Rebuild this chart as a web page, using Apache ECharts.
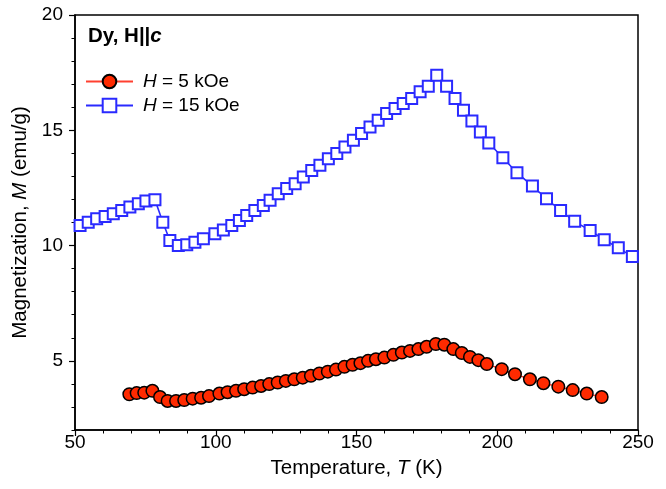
<!DOCTYPE html>
<html>
<head>
<meta charset="utf-8">
<script src="https://cdn.jsdelivr.net/npm/echarts@6/dist/echarts.min.js"></script>
<style>
  html, body { margin: 0; padding: 0; background: #fff; }
  #chart { width: 666px; height: 489px; }
</style>
</head>
<body>
<div id="chart"></div>
<script>
// Dy single crystal, field along c: magnetization vs temperature
const tempHigh = [51.8, 54.7, 57.7, 60.7, 63.6, 66.6, 69.5, 72.5, 75.2, 78.4,
  81.2, 83.7, 86.7, 89.7, 92.6, 95.6, 99.7, 102.7, 105.7, 108.4,
  111, 113.9, 116.9, 119.3, 122.2, 125.2, 128.2, 131.1, 134.1, 137,
  140, 143, 145.9, 148.9, 151.8, 154.8, 157.7, 160.7, 163.7, 166.6,
  169.6, 172.6, 175.5, 178.5, 182, 185, 188, 191, 194, 197,
  202, 207, 212.5, 217.5, 222.5, 227.5, 233, 238, 243, 248];
const magHigh = [10.87, 11.01, 11.16, 11.26, 11.38, 11.52, 11.67, 11.81, 11.93, 11.99,
  11.01, 10.22, 10.0, 10.04, 10.14, 10.29, 10.51, 10.68, 10.87, 11.09,
  11.3, 11.52, 11.74, 11.96, 12.25, 12.47, 12.68, 12.97, 13.26, 13.48,
  13.77, 13.99, 14.27, 14.57, 14.86, 15.14, 15.43, 15.73, 15.94, 16.16,
  16.38, 16.67, 16.91, 17.39, 16.91, 16.38, 15.87, 15.4, 14.93, 14.45,
  13.81, 13.16, 12.58, 12.03, 11.52, 11.05, 10.65, 10.25, 9.9, 9.52];

const tempLow = [69.3, 71.9, 74.6, 77.5, 80.2, 82.9, 85.9, 88.8, 91.8, 94.8,
  97.6, 101.3, 104.2, 107.2, 110.1, 113.1, 116.1, 119, 122, 124.9,
  127.9, 130.9, 133.8, 136.8, 139.8, 142.7, 145.7, 148.6, 151.4, 154.1,
  156.9, 159.9, 163.1, 166.1, 169, 172, 174.9, 178.2, 181.2, 184.4,
  187.4, 190.3, 193.3, 196.3, 201.6, 206.3, 211.6, 216.4, 221.7, 226.8,
  231.8, 237.1];
const magLow = [3.55, 3.6, 3.62, 3.7, 3.43, 3.26, 3.26, 3.3, 3.36, 3.4,
  3.47, 3.58, 3.64, 3.7, 3.77, 3.84, 3.91, 3.99, 4.06, 4.13,
  4.2, 4.27, 4.35, 4.45, 4.53, 4.62, 4.74, 4.83, 4.9, 5.0,
  5.07, 5.14, 5.26, 5.36, 5.43, 5.51, 5.61, 5.73, 5.7, 5.51,
  5.34, 5.17, 5.03, 4.86, 4.64, 4.42, 4.2, 4.03, 3.88, 3.73,
  3.58, 3.43];

const yMajorTicks = [5, 10, 15, 20];
const yMinorTicks = [2, 3, 4, 6, 7, 8, 9, 11, 12, 13, 14, 16, 17, 18, 19];

const FONT = '"Liberation Sans", Arial, Helvetica, sans-serif';
const TICK_FS = 19;
const NAME_FS = 20.5;
const LEGEND_FS = 19;

const zip = (xs, ys) => xs.map((x, i) => [x, ys[i]]);

const chart = echarts.init(document.getElementById('chart'), null, { renderer: 'canvas' });

chart.setOption({
  backgroundColor: '#fff',
  animation: false,
  textStyle: { fontFamily: FONT, color: '#000' },
  title: {
    left: 88, top: 26, padding: 0,
    text: '{b|Dy, H||}{bi|c}',
    textStyle: {
      rich: {
        b: { fontFamily: FONT, fontWeight: 'bold', fontSize: 20.5, color: '#000' },
        bi: { fontFamily: FONT, fontWeight: 'bold', fontStyle: 'italic', fontSize: 20.5, color: '#000' }
      }
    }
  },
  legend: {
    orient: 'vertical',
    left: 85, top: 72, padding: 0,
    itemWidth: 47, itemHeight: 17, itemGap: 5,
    data: ['low', 'high'],
    formatter: name => name === 'low' ? '{i|H} = 5 kOe' : '{i|H} = 15 kOe',
    textStyle: {
      fontFamily: FONT, fontSize: LEGEND_FS, color: '#000', padding: [0, 0, 0, 5],
      rich: {
        i: { fontFamily: FONT, fontStyle: 'italic', fontSize: LEGEND_FS, color: '#000' }
      }
    }
  },
  grid: {
    left: 75, right: 28, top: 15, bottom: 59,
    show: true, borderColor: '#000', borderWidth: 1.5, backgroundColor: 'transparent'
  },
  xAxis: {
    type: 'value', min: 50, max: 250, interval: 50,
    name: 'Temperature, {i|T} (K)',
    nameLocation: 'middle', nameGap: 28,
    nameTextStyle: {
      fontFamily: FONT, fontSize: NAME_FS, color: '#000',
      rich: { i: { fontFamily: FONT, fontStyle: 'italic', fontSize: NAME_FS, color: '#000' } }
    },
    axisLine: { show: true, lineStyle: { color: '#000', width: 1.5 } },
    axisTick: { show: true, inside: false, length: 6, lineStyle: { color: '#000', width: 1.2 } },
    minorTick: { show: true, splitNumber: 5, length: 3.5, lineStyle: { color: '#000', width: 1 } },
    axisLabel: { fontFamily: FONT, fontSize: TICK_FS, color: '#000', margin: 3 },
    splitLine: { show: false }
  },
  yAxis: [
    {
      type: 'value', min: 2, max: 20,
      name: 'Magnetization, {i|M} (emu/g)',
      nameLocation: 'middle', nameGap: 40,
      nameTextStyle: {
        fontFamily: FONT, fontSize: NAME_FS, color: '#000',
        rich: { i: { fontFamily: FONT, fontStyle: 'italic', fontSize: NAME_FS, color: '#000' } }
      },
      axisLine: { show: true, lineStyle: { color: '#000', width: 1.5 } },
      axisTick: { show: true, inside: false, length: 6, customValues: yMajorTicks,
        lineStyle: { color: '#000', width: 1.2 } },
      axisLabel: { fontFamily: FONT, fontSize: TICK_FS, color: '#000', margin: 12, customValues: yMajorTicks },
      splitLine: { show: false }
    },
    {
      type: 'value', min: 2, max: 20, position: 'left',
      axisLine: { show: false },
      axisTick: { show: true, inside: false, length: 3.5, customValues: yMinorTicks,
        lineStyle: { color: '#000', width: 1 } },
      axisLabel: { show: false },
      splitLine: { show: false }
    }
  ],
  series: [
    {
      name: 'high', type: 'line', data: zip(tempHigh, magHigh),
      symbol: 'rect', symbolSize: 11, clip: false,
      lineStyle: { color: '#2a2aff', width: 1.6 },
      itemStyle: { color: '#fff', borderColor: '#2a2aff', borderWidth: 2 },
      z: 2
    },
    {
      name: 'low', type: 'line', data: zip(tempLow, magLow),
      symbol: 'circle', symbolSize: 12.5, clip: false,
      lineStyle: { color: '#ff4030', width: 1.4 },
      itemStyle: { color: '#ff2a00', borderColor: '#000', borderWidth: 1.5 },
      z: 3
    }
  ]
});
</script>
</body>
</html>
